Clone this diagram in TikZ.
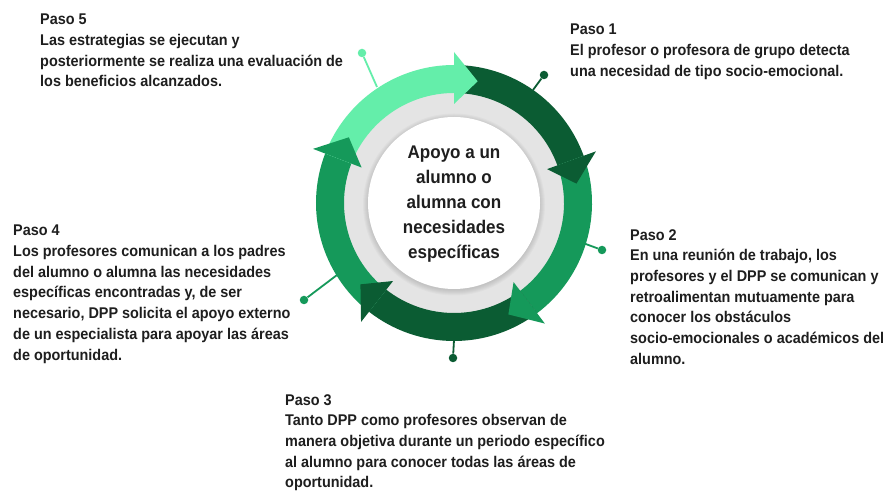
\documentclass[tikz,border=0pt]{standalone}
\usepackage{fontspec}
\usetikzlibrary{calc}
\setmainfont{Liberation Sans}[FakeStretch=0.93]
\definecolor{gLight}{HTML}{64EEAA}
\definecolor{gMid}{HTML}{15995A}
\definecolor{gDark}{HTML}{0B5C33}
\definecolor{ringGray}{HTML}{E4E4E4}
\definecolor{txt}{HTML}{1E1E1E}
\begin{document}
\begin{tikzpicture}[x=1pt,y=1pt,
  txtblock/.style={anchor=north west, inner sep=0pt, align=left, text=txt, font=\bfseries\fontsize{15.5}{20.7}\selectfont},
  centertxt/.style={align=center, inner sep=0pt, text=txt, font=\bfseries\fontsize{18.3}{25}\selectfont},
  pinline/.style={line width=1.8pt},
  pindot/.style={circle, inner sep=0pt, minimum size=8.5pt},
]
\useasboundingbox (0,0) rectangle (885,492);
\fill[white] (0,0) rectangle (885,492);
\coordinate (C) at (454,289);
% gray ring and white disc with soft shadow
\fill[ringGray] (C) circle[radius=118];
\foreach \k in {1,...,6}{
  \fill[black, opacity=0.025] ($(C)+(0,-1.5)$) circle[radius=85+\k];
}
\fill[white] (C) circle[radius=86];
% arrow bodies
\begin{scope}[shift={(C)}]
  \fill[gDark]  (90:138) arc[start angle=90, end angle=20, radius=138] -- (20:110) arc[start angle=20, end angle=90, radius=110] -- cycle;
  \fill[gMid]   (20:138) arc[start angle=20, end angle=-53, radius=138] -- (-53:110) arc[start angle=-53, end angle=20, radius=110] -- cycle;
  \fill[gDark]  (-53:138) arc[start angle=-53, end angle=-128, radius=138] -- (-128:110) arc[start angle=-128, end angle=-53, radius=110] -- cycle;
  \fill[gMid]   (-128:138) arc[start angle=-128, end angle=-201, radius=138] -- (-201:110) arc[start angle=-201, end angle=-128, radius=110] -- cycle;
  \fill[gLight] (159:138) arc[start angle=159, end angle=90, radius=138] -- (90:110) arc[start angle=90, end angle=159, radius=110] -- cycle;
  % arrow heads
  \fill[gDark]  (20:151) -- (9:124) -- (20:99) -- cycle;
  \fill[gMid]   (-53:151) -- (-64:124) -- (-53:99) -- cycle;
  \fill[gDark]  (-128:151) -- (-139:124) -- (-128:99) -- cycle;
  \fill[gMid]   (159:151) -- (148:124) -- (159:99) -- cycle;
  \fill[gLight] (90:151) -- (79:124) -- (90:99) -- cycle;
\end{scope}
% center text
\node[centertxt] (centro) at (454,288) {Apoyo a un\\alumno o\\alumna con\\necesidades\\específicas};
% pins
\coordinate (pin1a) at (533,402);
\node[pindot, fill=gDark] (pin1) at (544,417) {};
\draw[pinline, gDark] (pin1a) -- (pin1);
\coordinate (pin2a) at (583,249);
\node[pindot, fill=gMid] (pin2) at (602,242) {};
\draw[pinline, gMid] (pin2a) -- (pin2);
\coordinate (pin3a) at (454,152);
\node[pindot, fill=gDark] (pin3) at (453,134) {};
\draw[pinline, gDark] (pin3a) -- (pin3);
\coordinate (pin4a) at (337,217);
\node[pindot, fill=gMid] (pin4) at (304,192) {};
\draw[pinline, gMid] (pin4a) -- (pin4);
\coordinate (pin5a) at (377,405);
\node[pindot, fill=gLight] (pin5) at (362,439) {};
\draw[pinline, gLight] (pin5a) -- (pin5);
% text blocks (top = first baseline + cap height)
\node[txtblock] (paso5) at (40,478) {Paso 5\\Las estrategias se ejecutan y\\posteriormente se realiza una evaluación de\\los beneficios alcanzados.};
\node[txtblock] (paso1) at (570,468) {Paso 1\\El profesor o profesora de grupo detecta\\una necesidad de tipo socio-emocional.};
\node[txtblock] (paso2) at (630,263) {Paso 2\\En una reunión de trabajo, los\\profesores y el DPP se comunican y\\retroalimentan mutuamente para\\conocer los obstáculos\\socio-emocionales o académicos del\\alumno.};
\node[txtblock] (paso3) at (285,98) {Paso 3\\Tanto DPP como profesores observan de\\manera objetiva durante un periodo específico\\al alumno para conocer todas las áreas de\\oportunidad.};
\node[txtblock] (paso4) at (13,267) {Paso 4\\Los profesores comunican a los padres\\del alumno o alumna las necesidades\\específicas encontradas y, de ser\\necesario, DPP solicita el apoyo externo\\de un especialista para apoyar las áreas\\de oportunidad.};
\end{tikzpicture}
\end{document}
